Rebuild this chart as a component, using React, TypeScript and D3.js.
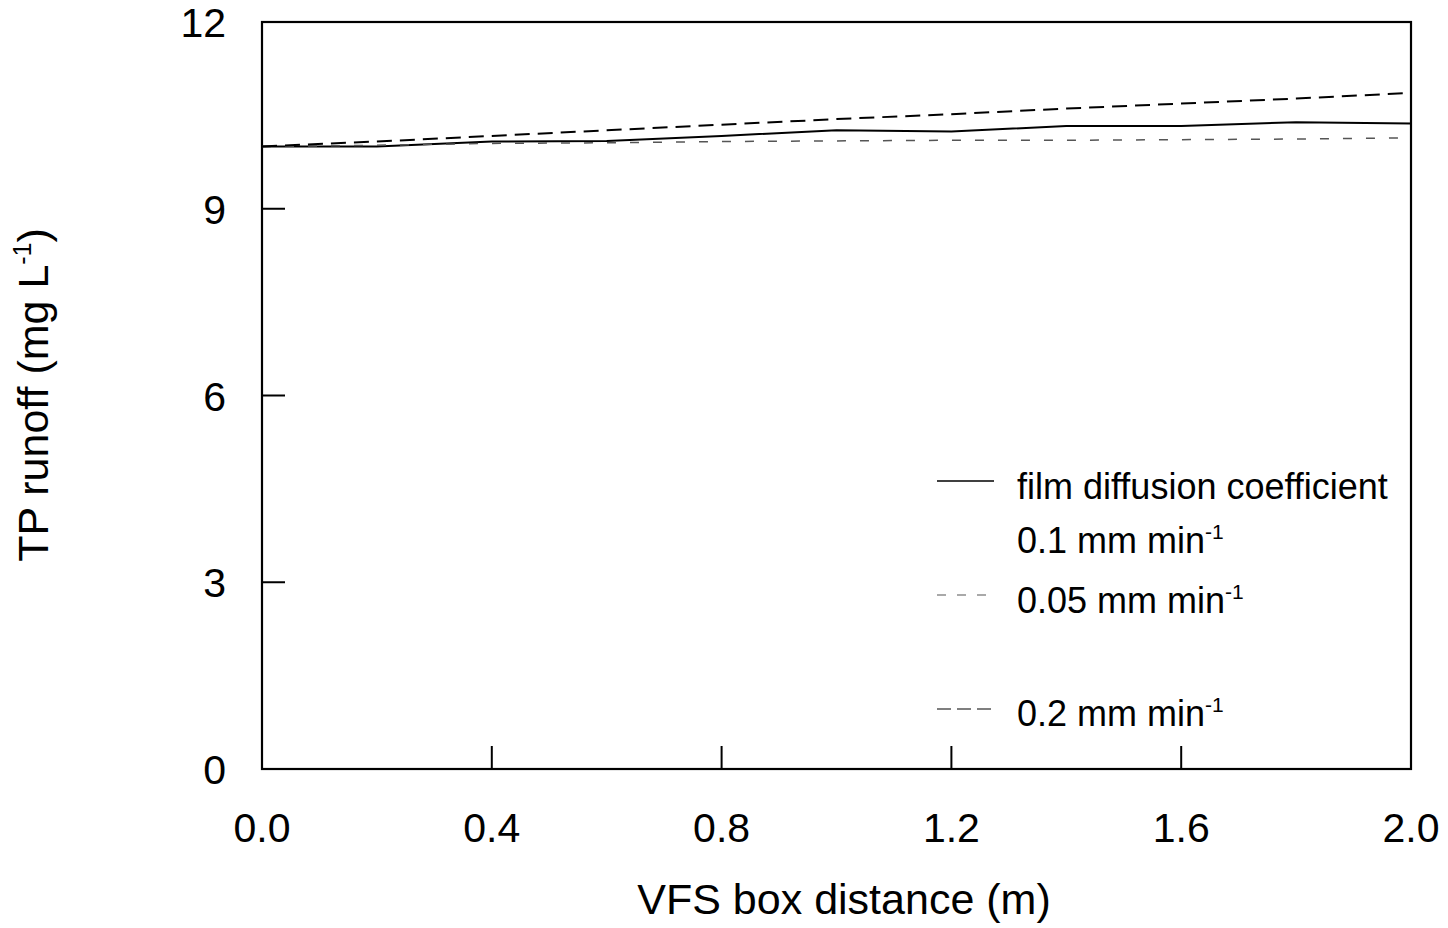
import React from "react";
import * as d3 from "d3";

const distances = [0, 0.2, 0.4, 0.6, 0.8, 1.0, 1.2, 1.4, 1.6, 1.8, 2.0];
const series01 = [10.0, 10.0, 10.08, 10.09, 10.17, 10.26, 10.24, 10.33, 10.33, 10.39, 10.37];
const series005 = [10.0, 10.02, 10.05, 10.06, 10.08, 10.09, 10.1, 10.1, 10.11, 10.12, 10.14];
const series02 = [10.0, 10.08, 10.17, 10.26, 10.35, 10.44, 10.52, 10.61, 10.69, 10.77, 10.86];
const xTicks = [0, 0.4, 0.8, 1.2, 1.6, 2.0];
const yTicks = [0, 3, 6, 9, 12];

const W = 1448, H = 928;
const L = 262, R = 1411, T = 22, B = 769;
const FONT = "'Liberation Sans', Arial, Helvetica, sans-serif";

export default function App() {
  const x = d3.scaleLinear().domain([0, 2]).range([L, R]);
  const y = d3.scaleLinear().domain([0, 12]).range([B, T]);
  const line = d3.line<number>().x((_, i) => x(distances[i])).y((d) => y(d));
  const tickLen = 23;

  return (
    <svg width={W} height={H} style={{ position: "absolute", left: 0, top: 0, background: "#fff" }} fontFamily={FONT}>
      <rect x={L} y={T} width={R - L} height={B - T} fill="none" stroke="#000" strokeWidth={2.2} />
      {yTicks.map((t) => (
        <g key={"y" + t}>
          {t > 0 && t < 12 && <line x1={L} x2={L + tickLen} y1={y(t)} y2={y(t)} stroke="#000" strokeWidth={2} />}
          <text x={226} y={y(t) + 15} textAnchor="end" fontSize={41} fill="#000">{t}</text>
        </g>
      ))}
      {xTicks.map((t) => (
        <g key={"x" + t}>
          {t > 0 && t < 2 && <line x1={x(t)} x2={x(t)} y1={B} y2={B - tickLen} stroke="#000" strokeWidth={2} />}
          <text x={x(t)} y={842} textAnchor="middle" fontSize={41} fill="#000">{t.toFixed(1)}</text>
        </g>
      ))}
      <text x={844} y={914} textAnchor="middle" fontSize={43} fill="#000">VFS box distance (m)</text>
      <text transform="translate(48,395) rotate(-90)" textAnchor="middle" fontSize={43} fill="#000">
        TP runoff (mg L<tspan dy="-17" fontSize={25}>-1</tspan><tspan dy="17">)</tspan>
      </text>

      <path d={line(series01) || ""} fill="none" stroke="#000" strokeWidth={2} />
      <path d={line(series005) || ""} fill="none" stroke="#555" strokeWidth={1.5} strokeDasharray="9 14" />
      <path d={line(series02) || ""} fill="none" stroke="#000" strokeWidth={2} strokeDasharray="15 8" />

      <g fontSize={36} fill="#000">
        <line x1={937} x2={994} y1={481} y2={481} stroke="#000" strokeWidth={1.5} />
        <text x={1017} y={499}>film diffusion coefficient</text>
        <text x={1017} y={553}>0.1 mm min<tspan dy="-14" fontSize={21}>-1</tspan></text>
        <line x1={937} x2={994} y1={595} y2={595} stroke="#555" strokeWidth={1.2} strokeDasharray="9 11" />
        <text x={1017} y={613}>0.05 mm min<tspan dy="-14" fontSize={21}>-1</tspan></text>
        <line x1={937} x2={994} y1={709} y2={709} stroke="#000" strokeWidth={1.2} strokeDasharray="14 6" />
        <text x={1017} y={726}>0.2 mm min<tspan dy="-14" fontSize={21}>-1</tspan></text>
      </g>
    </svg>
  );
}
